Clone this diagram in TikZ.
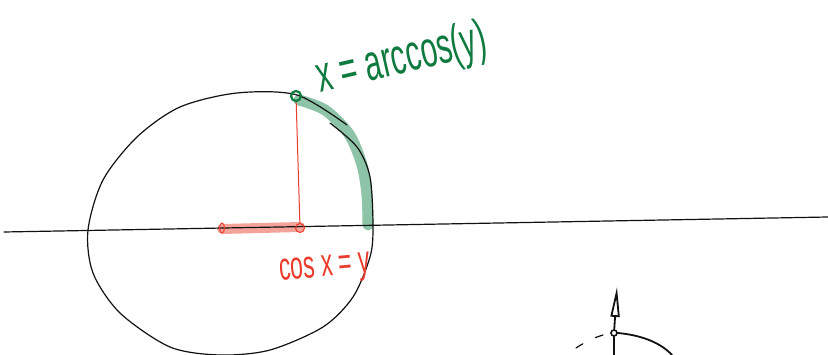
\documentclass[tikz,border=0pt]{standalone}
\usepackage{fontspec}
\setmainfont{Liberation Sans}
\usetikzlibrary{arrows.meta,positioning,calc,shapes.geometric}
\definecolor{ink}{HTML}{111111}
\definecolor{sketchgreen}{HTML}{0F7A3F}
\definecolor{greenpale}{HTML}{8DC3A6}
\definecolor{sketchred}{HTML}{EA3B2C}
\definecolor{redpale}{HTML}{F4A39A}
\tikzset{
  pen/.style={draw=ink,line width=1.2pt,line cap=round},
  marker/.style={circle,draw,inner sep=0pt,minimum size=#1},
  hilite/.style={line width=11pt,line cap=round,line join=round},
  hand/.style={font=\fontsize{#1}{#1}\selectfont,inner sep=0pt}
}
\begin{document}
\begin{tikzpicture}[x=1pt,y=-1pt]
  \useasboundingbox (0,0) rectangle (828,355);
  \draw[hilite,greenpale] plot[smooth] coordinates {(299,100) (325,110) (349,134) (362,165) (367,195) (368,225)};
  \draw[hilite,line width=10pt,redpale] (222,229) -- (300,227);
  \draw[pen] (4,232) -- (828,217);
  \draw[pen] plot[smooth] coordinates {(330,123) (357,147) (370,177) (373,227) (370,257) (353,297) (323,327) (270,350) (220,355) (170,347) (120,313) (93,273) (88,230) (103,180) (137,137) (180,107) (237,93) (297,95) (347,125)};
  \node[marker=10pt,sketchgreen,line width=2.2pt] (top) at (296,96) {};
  \node[marker=9pt,sketchred,line width=1pt] (foot) at (300,228) {};
  \node[ellipse,draw=sketchred,line width=1pt,inner sep=0pt,minimum width=5pt,minimum height=10pt] (left) at (222,228) {};
  \draw[sketchred,line width=1pt] (top) -- (foot);
  \node[hand=30,sketchgreen,rotate=13,yscale=1.7] (arc) at (402,60) {x = arccos(y)};
  \node[hand=23,sketchred,rotate=5,yscale=1.7] (eq) at (325,270) {cos x = y};
  \node[marker=6pt,ink,line width=1.6pt] (o) at (614,333) {};
  \coordinate (axisfoot) at (614,355);
  \coordinate (axistop) at (617,287);
  \draw[pen,line width=1.8pt,-{Triangle[open,length=30pt,width=9pt]}] (axisfoot) -- (o) -- (axistop);
  \draw[pen,line width=1.8pt] (o.east) .. controls (640,335) and (660,342) .. (672,355);
  \draw[pen,dashed,dash pattern=on 8pt off 14pt] (576,348) .. controls (588,340) and (598,336) .. (o.west);
\end{tikzpicture}
\end{document}
